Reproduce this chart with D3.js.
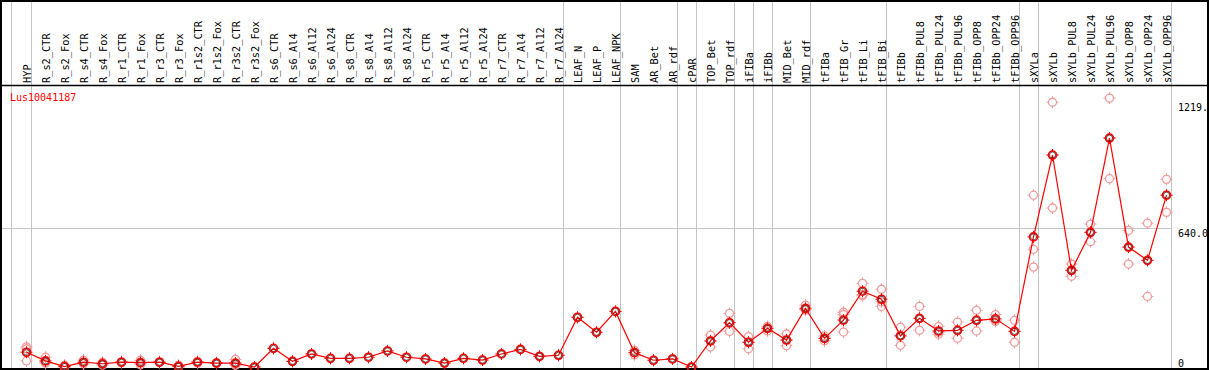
<!DOCTYPE html>
<html>
<head>
<meta charset="utf-8">
<script src="https://cdn.jsdelivr.net/npm/d3@7"></script>
<style>
  html, body { margin: 0; padding: 0; background: #fff; overflow: hidden; }
  svg text { font-family: "DejaVu Sans Mono", monospace; }
</style>
</head>
<body>
<div id="container"></div>
<script>
const width = 1209, height = 370;

// Data: sample labels, mean expression and replicate values
const geneName = "Lus10041187";

const samples = [
  "HYP",
  "R_s2_CTR", "R_s2_Fox", "R_s4_CTR", "R_s4_Fox", "R_r1_CTR", "R_r1_Fox",
  "R_r3_CTR", "R_r3_Fox", "R_r1s2_CTR", "R_r1s2_Fox", "R_r3s2_CTR", "R_r3s2_Fox",
  "R_s6_CTR", "R_s6_Al4", "R_s6_Al12", "R_s6_Al24", "R_s8_CTR", "R_s8_Al4",
  "R_s8_Al12", "R_s8_Al24", "R_r5_CTR", "R_r5_Al4", "R_r5_Al12", "R_r5_Al24",
  "R_r7_CTR", "R_r7_Al4", "R_r7_Al12", "R_r7_Al24",
  "LEAF_N", "LEAF_P", "LEAF_NPK",
  "SAM", "AR_Bet", "AR_rdf",
  "cPAR",
  "TOP_Bet", "TOP_rdf",
  "iFIBa",
  "iFIBb",
  "MID_Bet", "MID_rdf",
  "tFIBa", "tFIB_Gr", "tFIB_Li", "tFIB_Bi",
  "tFIBb", "tFIBb_PUL8", "tFIBb_PUL24", "tFIBb_PUL96", "tFIBb_OPP8", "tFIBb_OPP24", "tFIBb_OPP96",
  "sXYLa",
  "sXYLb", "sXYLb_PUL8", "sXYLb_PUL24", "sXYLb_PUL96", "sXYLb_OPP8", "sXYLb_OPP24", "sXYLb_OPP96"
];

const means = [
  68, 28, 2, 22, 15, 22, 20, 22, 3, 22, 18, 18, 0,
  86, 26, 60, 40, 40, 45, 74, 45, 37, 18, 40, 32, 60, 81, 49, 54,
  229, 160, 256,
  66, 31, 37,
  0,
  120, 204,
  114,
  178,
  124, 270,
  132, 216, 349, 312,
  143, 224, 166, 169, 215, 222, 164,
  599,
  976, 445, 620, 1054, 552, 491, 791
];

const replicates = [
  [93, 84, 28], [45, 22, 17], [8, 0, 0], [32, 20, 14], [22, 15, 8], [24, 22, 20],
  [31, 18, 10], [24, 22, 20], [8, 3, 0], [26, 22, 18], [20, 18, 16], [35, 12, 8], [0],
  [86], [26], [60], [40], [40], [45], [74], [45], [37], [18], [40], [32], [60], [81], [49], [54],
  [229], [160], [256],
  [76, 66, 56], [31], [37],
  [0],
  [147, 120, 92], [247, 204, 164],
  [140, 114, 84],
  [187, 178, 166],
  [152, 124, 98], [285, 265, 262],
  [143, 132, 121], [252, 241, 161], [385, 334, 328], [358, 300, 279],
  [183, 146, 100], [279, 224, 169], [186, 160, 151], [207, 169, 132], [261, 218, 166], [241, 215, 210], [215, 164, 114],
  [791, 542, 460],
  [1219, 976, 732], [474, 445, 418], [658, 620, 577], [1238, 1054, 867], [629, 552, 474], [662, 491, 325], [864, 791, 712]
];

// index of the last sample in each group (gray separators after them)
const groupEnds = [0, 28, 31, 34, 35, 37, 38, 39, 41, 45, 52, 53, 60];

const yTicks = [0, 640, 1219];
const yTickLabels = ["0", "640.0", "1219."];

const headerBottom = 85;
const plotBottom = 369;

const svg = d3.select("#container")
  .append("svg")
  .attr("width", width)
  .attr("height", height)
  .style("display", "block");

const x = d3.scalePoint().domain(samples).range([26.5, 1166.5]);
const y = d3.scaleLinear().domain([0, 640]).range([367, 228]);

// gray separators, full height
const sepX = [x(samples[0]) - 16, ...groupEnds.map(i => x(samples[i]) + 4)];
svg.selectAll("line.sep")
  .data(sepX)
  .join("line")
  .attr("class", "sep")
  .attr("x1", d => Math.round(d) + 0.5).attr("x2", d => Math.round(d) + 0.5)
  .attr("y1", 0).attr("y2", plotBottom)
  .attr("stroke", "#c4c4c4")
  .attr("stroke-width", 1);

// horizontal reference line at the middle tick
svg.append("line")
  .attr("x1", 1).attr("x2", Math.round(x(samples[60]) + 4) + 0.5)
  .attr("y1", Math.round(y(640)) + 0.5).attr("y2", Math.round(y(640)) + 0.5)
  .attr("stroke", "#c4c4c4")
  .attr("stroke-width", 1);

// frame
svg.append("rect")
  .attr("x", 1).attr("y", 1)
  .attr("width", width - 2).attr("height", plotBottom - 1)
  .attr("fill", "none")
  .attr("stroke", "#000")
  .attr("stroke-width", 2);

svg.append("line")
  .attr("x1", 0).attr("x2", width)
  .attr("y1", headerBottom + 0.5).attr("y2", headerBottom + 0.5)
  .attr("stroke", "#000")
  .attr("stroke-width", 1.5);

// rotated sample labels in the header
svg.selectAll("text.lab")
  .data(samples)
  .join("text")
  .attr("class", "lab")
  .attr("transform", d => `translate(${x(d) + 4},${headerBottom - 2}) rotate(-90)`)
  .attr("fill", "#000")
  .style("font-size", "10.3px")
  .text(d => d);

// gene name
svg.append("text")
  .attr("x", 10)
  .attr("y", 101)
  .attr("fill", "#ff0000")
  .style("font-size", "10px")
  .text(geneName);

// right-side value labels
svg.selectAll("text.ytick")
  .data(yTicks)
  .join("text")
  .attr("class", "ytick")
  .attr("x", 1178)
  .attr("y", d => d === 0 ? y(d) : y(d) + 9)
  .attr("fill", "#000")
  .style("font-size", "10px")
  .text((d, i) => yTickLabels[i]);

// marker: circle with four small ticks
function marker(sel, color, sw) {
  sel.append("circle")
    .attr("r", 4)
    .attr("fill", "none")
    .attr("stroke", color)
    .attr("stroke-width", sw);
  [[0, -4, 0, -6], [0, 4, 0, 6], [-4, 0, -6, 0], [4, 0, 6, 0]].forEach(([a, b, c, e]) => {
    sel.append("line")
      .attr("x1", a).attr("y1", b).attr("x2", c).attr("y2", e)
      .attr("stroke", color)
      .attr("stroke-width", 1);
  });
}

// replicates
const repPts = [];
replicates.forEach((r, i) => r.forEach(v => repPts.push({ s: samples[i], v })));
svg.selectAll("g.rep")
  .data(repPts)
  .join("g")
  .attr("class", "rep")
  .attr("transform", d => `translate(${x(d.s)},${y(d.v)})`)
  .each(function () { marker(d3.select(this), "#f29b9b", 1.3); });

// mean line
const meanPts = samples.map((s, i) => ({ s, v: means[i] }));
svg.append("path")
  .datum(meanPts)
  .attr("fill", "none")
  .attr("stroke", "#ff0000")
  .attr("stroke-width", 1.2)
  .attr("d", d3.line().x(d => x(d.s)).y(d => y(d.v)));

// mean markers
svg.selectAll("g.mean")
  .data(meanPts)
  .join("g")
  .attr("class", "mean")
  .attr("transform", d => `translate(${x(d.s)},${y(d.v)})`)
  .each(function () {
    const g = d3.select(this);
    marker(g, "#ff0000", 1.6);
    g.append("circle")
      .attr("r", 3)
      .attr("fill", "none")
      .attr("stroke", "#000")
      .attr("stroke-width", 0.6);
  });
</script>
</body>
</html>
